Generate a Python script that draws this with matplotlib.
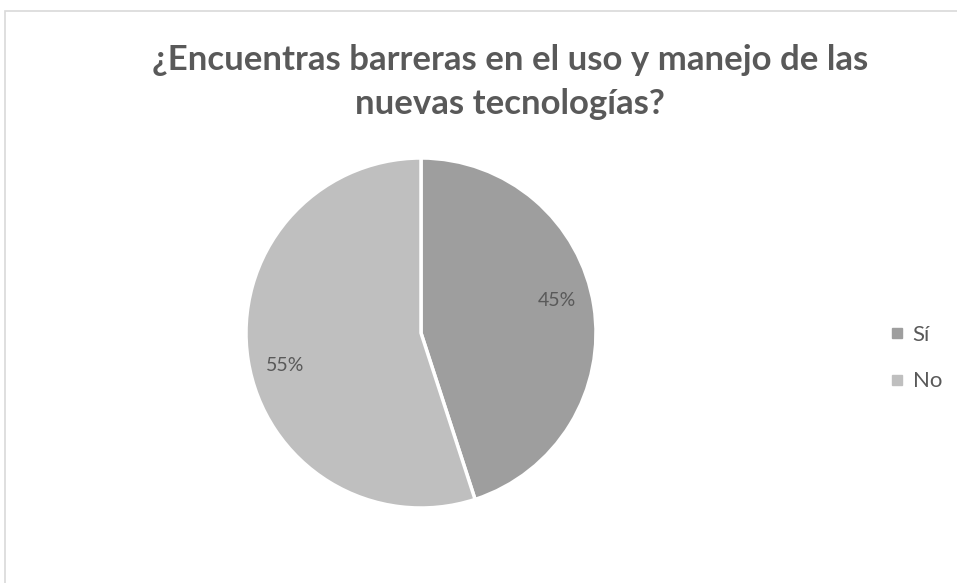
import numpy as np
import matplotlib.pyplot as plt
from matplotlib.patches import Rectangle
from matplotlib.lines import Line2D

# data
labels = ['Sí', 'No']
values = [45, 55]
colors = ['#9e9e9e', '#bfbfbf']
title_lines = ['¿Encuentras barreras en el uso y manejo de las', 'nuevas tecnologías?']

W, H = 957, 583
txt = '#595959'
fig = plt.figure(figsize=(W / 100, H / 100), dpi=100)
fig.patch.set_facecolor('white')

# chart area border (light gray, runs off right and bottom)
fig.patches.append(Rectangle((5 / W, -0.1), 1.2, (H - 11) / H + 0.1,
                             transform=fig.transFigure, fill=False,
                             edgecolor='#d9d9d9', linewidth=1.2))

cx, cy, r = 421, 333, 175
ax = fig.add_axes([(cx - r) / W, (H - cy - r) / H, 2 * r / W, 2 * r / H])
wedges, texts, autotexts = ax.pie(values, colors=colors, startangle=90, counterclock=False,
                                  autopct='%1.0f%%', pctdistance=0.8,
                                  wedgeprops=dict(edgecolor='white', linewidth=2.5),
                                  textprops=dict(color=txt, fontsize=14, family='Lato'))
# excel nudges the labels a little off the bisector
for w, t in zip(wedges, autotexts):
    th = np.radians((w.theta1 + w.theta2) / 2 + 4.5)
    t.set_position((0.8 * np.cos(th), 0.8 * np.sin(th)))
ax.set_xlim(-1, 1)
ax.set_ylim(-1, 1)
ax.set_aspect('equal')
ax.axis('off')

for i, line in enumerate(title_lines):
    fig.text(510 / W, 1 - (70 + 44 * i) / H, line, ha='center', va='baseline', fontsize=25,
             color=txt, family='Lato', weight='bold')

handles = [Line2D([], [], marker='s', linestyle='none', markersize=7.2,
                  markerfacecolor=c, markeredgecolor=c) for c in colors]
leg = fig.legend(handles, labels, loc='center left', bbox_to_anchor=(866 / W, 1 - 358 / H),
                 frameon=False, labelspacing=1.2, handletextpad=0.2,
                 handlelength=1.0, prop=dict(family='Lato', size=16))
for t in leg.get_texts():
    t.set_color(txt)

fig.savefig('out.png', dpi=100)
